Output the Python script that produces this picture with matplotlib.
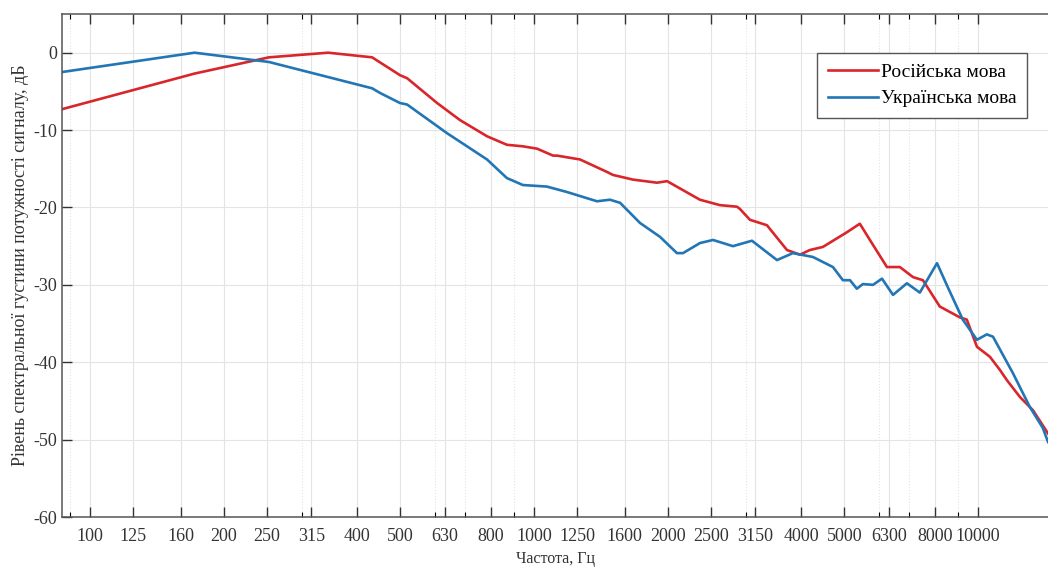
import numpy as np
import matplotlib
matplotlib.use("Agg")
import matplotlib.pyplot as plt
from matplotlib.ticker import FixedLocator, FixedFormatter, LogLocator, NullFormatter

plt.rcParams['font.family'] = ['Liberation Serif', 'DejaVu Serif']
plt.rcParams['axes.unicode_minus'] = False

# Russian speech, frequency (Hz) and level (dB)
freq_ru = [86.5, 172, 253, 344, 432, 499, 518, 605, 681, 784, 869, 944, 1016,
           1104, 1127, 1270, 1459, 1507, 1671, 1893, 1994, 2365, 2623, 2865,
           2911, 3066, 3146, 3348, 3714, 3972, 4183, 4475, 5069, 5419, 5710,
           6237, 6670, 7140, 7517, 8204, 9100, 9440, 9947, 10641, 11208, 11614,
           12435, 13300, 14380]
db_ru = [-7.3, -2.7, -0.6, 0, -0.6, -2.9, -3.3, -6.5, -8.7, -10.8, -11.9, -12.1,
         -12.4, -13.3, -13.3, -13.8, -15.4, -15.8, -16.4, -16.8, -16.6, -19.0,
         -19.7, -19.9, -20.2, -21.6, -21.8, -22.3, -25.5, -26.1, -25.5, -25.1,
         -23.2, -22.1, -24.2, -27.7, -27.7, -29.0, -29.4, -32.8, -34.2, -34.5,
         -38.0, -39.3, -41.0, -42.3, -44.5, -46.2, -49.2]

# Ukrainian speech
freq_ua = [86.5, 172, 253, 432, 450, 499, 518, 637, 784, 869, 944, 1069, 1186,
           1316, 1387, 1483, 1563, 1733, 1923, 2099, 2166, 2365, 2531, 2665,
           2806, 3097, 3527, 3830, 4250, 4714, 4964, 5150, 5336, 5505, 5803,
           6080, 6437, 6918, 7398, 8087, 8551, 9245, 9947, 10471, 10811, 11985,
           13092, 14000, 14380]
db_ua = [-2.5, 0, -1.2, -4.6, -5.2, -6.5, -6.7, -10.4, -13.8, -16.2, -17.1,
         -17.3, -18.0, -18.8, -19.2, -19.0, -19.4, -22.0, -23.8, -25.9, -25.9,
         -24.6, -24.2, -24.6, -25.0, -24.3, -26.8, -25.9, -26.4, -27.7, -29.4,
         -29.4, -30.5, -29.9, -30.0, -29.2, -31.3, -29.8, -31.0, -27.2, -30.3,
         -34.5, -37.1, -36.4, -36.7, -41.4, -45.8, -48.5, -50.3]

xticks = [100, 125, 160, 200, 250, 315, 400, 500, 630, 800, 1000, 1250, 1600,
          2000, 2500, 3150, 4000, 5000, 6300, 8000, 10000]

fig = plt.figure(figsize=(10.48, 5.68), dpi=100)
ax = fig.add_axes([62 / 1048, 51 / 568, 986 / 1048, 503 / 568])

ax.plot(freq_ru, db_ru, color='#d9262b', lw=1.9, label='Російська мова')
ax.plot(freq_ua, db_ua, color='#2276b5', lw=1.9, label='Українська мова')

ax.set_xscale('log')
ax.set_xlim(86.5, 14380)
ax.set_ylim(-60, 5)

ax.xaxis.set_major_locator(FixedLocator(xticks))
ax.xaxis.set_major_formatter(FixedFormatter([str(t) for t in xticks]))
ax.xaxis.set_minor_locator(LogLocator(base=10, subs=np.arange(2, 10)))
ax.xaxis.set_minor_formatter(NullFormatter())
ax.set_yticks(np.arange(-60, 1, 10))

ax.tick_params(which='major', direction='in', length=7, width=1, top=True,
               right=False, labelsize=13, colors='#333333')
ax.tick_params(which='minor', direction='in', length=3.5, width=0.8, top=True,
               right=False)
ax.tick_params(axis='x', pad=8)

ax.grid(True, which='major', color='#e4e4e4', lw=0.8)
ax.grid(True, which='minor', axis='x', color='#e4e4e4', lw=0.8, ls=':')
ax.set_axisbelow(True)

for s in ['left', 'bottom', 'top']:
    ax.spines[s].set_color('#555555')
    ax.spines[s].set_linewidth(1.1)
ax.spines['right'].set_visible(False)

ax.set_xlabel('Частота, Гц', fontsize=11.5, color='#333333', labelpad=4)
ax.set_ylabel('Рівень спектральної густини потужності сигналу, дБ',
              fontsize=13, color='#333333', labelpad=3)

leg = ax.legend(loc='upper right', bbox_to_anchor=(0.979, 0.923), fontsize=14,
                fancybox=False, framealpha=1, edgecolor='#555555',
                handlelength=2.6, handletextpad=0.15, borderpad=0.55,
                labelspacing=0.45, borderaxespad=0)
leg.get_frame().set_linewidth(1.0)

fig.savefig('out.png', dpi=100)
